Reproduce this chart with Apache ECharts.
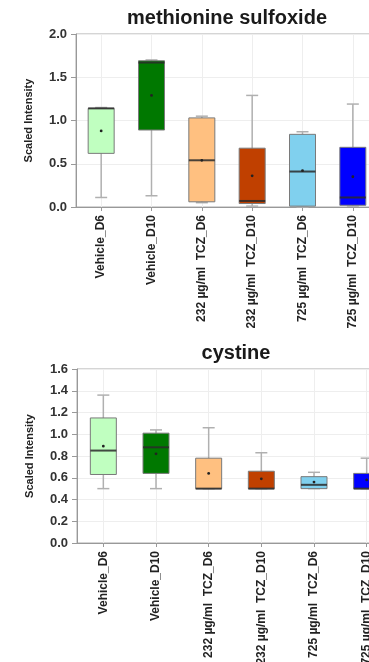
<!DOCTYPE html>
<html>
<head>
<meta charset="utf-8">
<script src="https://cdn.jsdelivr.net/npm/echarts@6/dist/echarts.min.js"></script>
<style>
html,body{margin:0;padding:0;background:#fff;}
#chart{width:369px;height:662px;}
</style>
</head>
<body>
<div id="chart"></div>
<script>
// ---- data ----
const categories = ['Vehicle_D6', 'Vehicle_D10', '232 µg/ml  TCZ_D6', '232 µg/ml  TCZ_D10', '725 µg/ml  TCZ_D6', '725 µg/ml  TCZ_D10'];

// methionine sulfoxide
const msMin    = [0.11, 0.13, 0.05, 0.01, 0.00, 0.01];
const msQ1     = [0.62, 0.89, 0.06, 0.04, 0.01, 0.02];
const msMedian = [1.14, 1.67, 0.54, 0.07, 0.41, 0.11];
const msQ3     = [1.14, 1.69, 1.03, 0.68, 0.84, 0.69];
const msMax    = [1.15, 1.70, 1.05, 1.29, 0.87, 1.19];
const msMean   = [0.88, 1.29, 0.54, 0.36, 0.42, 0.35];
const msTicks  = [0, 0.5, 1.0, 1.5, 2.0];

// cystine
const cyMin    = [0.50, 0.50, 0.50, 0.50, 0.50, 0.50];
const cyQ1     = [0.63, 0.64, 0.50, 0.50, 0.50, 0.50];
const cyMedian = [0.85, 0.88, 0.50, 0.50, 0.535, 0.50];
const cyQ3     = [1.15, 1.01, 0.78, 0.66, 0.61, 0.64];
const cyMax    = [1.36, 1.04, 1.06, 0.83, 0.65, 0.78];
const cyMean   = [0.89, 0.82, 0.64, 0.59, 0.56, 0.58];
const cyTicks  = [0, 0.2, 0.4, 0.6, 0.8, 1.0, 1.2, 1.4, 1.6];

// ---- styles ----
const boxColors = ['#c0ffc0', '#007800', '#ffc080', '#c04000', '#80d0ee', '#0000ff'];
const FONT = "'Liberation Sans', Arial, sans-serif";

function buildRows(mn, q1, md, q3, mx, mean) {
  return categories.map((c, i) => [i, mn[i], q1[i], md[i], q3[i], mx[i], mean[i]]);
}

function renderBox(params, api) {
  const i = api.value(0);
  const x = api.coord([i, 0])[0];
  const y = k => api.coord([i, api.value(k)])[1];
  const yMin = y(1), yQ1 = y(2), yMed = y(3), yQ3 = y(4), yMax = y(5), yMean = y(6);
  const hw = 13, cw = 6;
  const wStyle = { stroke: '#b0b0b0', lineWidth: 1.5 };
  return {
    type: 'group',
    children: [
      { type: 'line', shape: { x1: x, y1: yMin, x2: x, y2: yMax }, style: wStyle },
      { type: 'line', shape: { x1: x - cw, y1: yMin, x2: x + cw, y2: yMin }, style: wStyle },
      { type: 'line', shape: { x1: x - cw, y1: yMax, x2: x + cw, y2: yMax }, style: wStyle },
      { type: 'rect', shape: { x: x - hw, y: yQ3, width: 2 * hw, height: Math.max(yQ1 - yQ3, 0.5) },
        style: { fill: boxColors[i], stroke: '#7a7a7a', lineWidth: 1 } },
      { type: 'line', shape: { x1: x - hw, y1: yMed, x2: x + hw, y2: yMed },
        style: { stroke: '#2a2a2a', lineWidth: 2, opacity: 0.85 } },
      { type: 'circle', shape: { cx: x, cy: yMean, r: 1.4 }, style: { fill: '#222' } }
    ]
  };
}

const chart = echarts.init(document.getElementById('chart'), null, { renderer: 'canvas' });

function xAxisCfg(gi) {
  return {
    type: 'category', gridIndex: gi, data: categories,
    axisLine: { show: true, lineStyle: { color: '#999', width: 1 } },
    axisTick: { show: true, alignWithLabel: true, length: 4, lineStyle: { color: '#999' } },
    splitLine: { show: true, alignWithLabel: true, lineStyle: { color: '#eeeeee', width: 1 } },
    axisLabel: { interval: 0, rotate: 90, margin: 8, fontFamily: FONT, fontSize: 12, fontWeight: 'bold', color: '#222' }
  };
}
function yAxisCfg(gi, ticks) {
  return {
    type: 'value', gridIndex: gi,
    min: ticks[0], max: ticks[ticks.length - 1], interval: ticks[1] - ticks[0],
    name: 'Scaled Intensity', nameLocation: 'middle', nameGap: 42,
    nameTextStyle: { fontFamily: FONT, fontSize: 11, fontWeight: 'bold', color: '#222' },
    axisLine: { show: true, lineStyle: { color: '#999', width: 1 } },
    axisTick: { show: true, length: 5, lineStyle: { color: '#999' } },
    splitLine: { show: true, lineStyle: { color: '#eeeeee', width: 1 } },
    axisLabel: { margin: 9, fontFamily: FONT, fontSize: 13, fontWeight: 'bold', color: '#333',
      formatter: v => v.toFixed(1) }
  };
}

chart.setOption({
  animation: false,
  backgroundColor: '#ffffff',
  graphic: [
    { type: 'text', x: 227, y: 18, style: { text: 'methionine sulfoxide', align: 'center', verticalAlign: 'middle',
      font: "bold 20px 'Liberation Sans', Arial, sans-serif", fill: '#1a1a1a' } },
    { type: 'text', x: 236, y: 353, style: { text: 'cystine', align: 'center', verticalAlign: 'middle',
      font: "bold 20px 'Liberation Sans', Arial, sans-serif", fill: '#1a1a1a' } }
  ],
  grid: [
    { left: 76, top: 34, width: 302, height: 173, show: true, borderColor: '#aaa', borderWidth: 1,
      backgroundColor: 'transparent', containLabel: false, outerBoundsMode: 'none' },
    { left: 77, top: 369, width: 316, height: 174, show: true, borderColor: '#aaa', borderWidth: 1,
      backgroundColor: 'transparent', containLabel: false, outerBoundsMode: 'none' }
  ],
  xAxis: [xAxisCfg(0), xAxisCfg(1)],
  yAxis: [yAxisCfg(0, msTicks), yAxisCfg(1, cyTicks)],
  series: [
    { type: 'custom', xAxisIndex: 0, yAxisIndex: 0, renderItem: renderBox,
      encode: { x: 0, y: [1, 2, 3, 4, 5, 6] },
      data: buildRows(msMin, msQ1, msMedian, msQ3, msMax, msMean) },
    { type: 'custom', xAxisIndex: 1, yAxisIndex: 1, renderItem: renderBox,
      encode: { x: 0, y: [1, 2, 3, 4, 5, 6] },
      data: buildRows(cyMin, cyQ1, cyMedian, cyQ3, cyMax, cyMean) }
  ]
});
</script>
</body>
</html>
